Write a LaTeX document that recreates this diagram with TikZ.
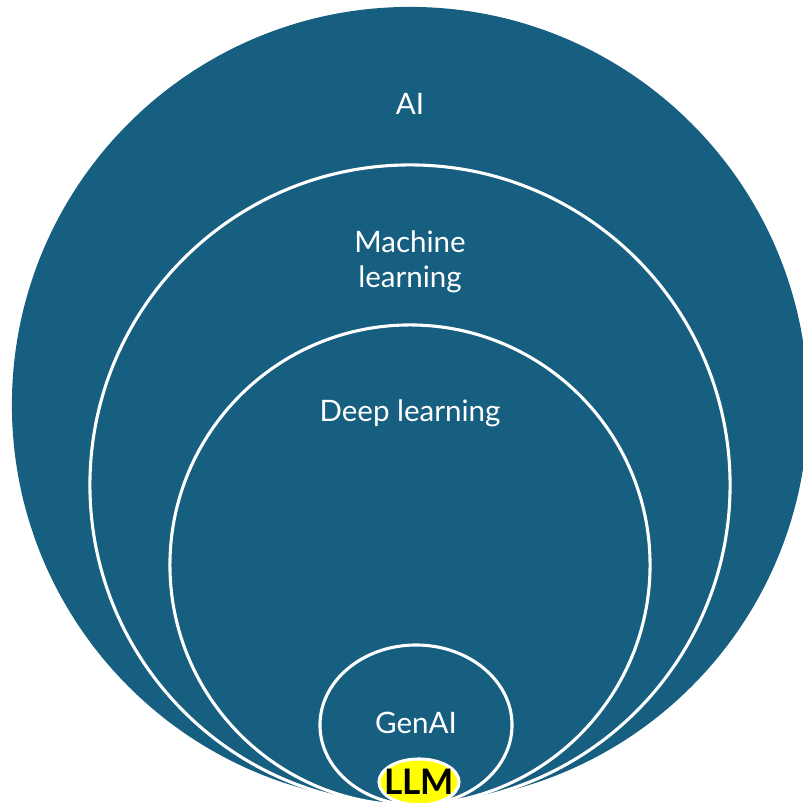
\documentclass[tikz,border=0pt]{standalone}
\usepackage{fontspec}
\setmainfont{Lato}
\definecolor{AIBlue}{RGB}{23, 95, 128}
\definecolor{LLMYellow}{RGB}{255, 255, 0}
\usetikzlibrary{shapes.geometric}

\begin{document}
\begin{tikzpicture}[
            x=0.025cm, y=-0.025cm,
            ring/.style={circle, draw=white, line width=2.2pt, fill=AIBlue, inner sep=0pt},
            label/.style={text=white, font=\fontsize{21}{25}\selectfont, align=center}
        ]
            \useasboundingbox (0,0) rectangle (803,803);
            \clip (0,0) rectangle (803,803);

            % nested sets
            \node[circle, fill=AIBlue, minimum size=19.9cm, inner sep=0pt] (ai) at (410,405) {};
            \node[ring, minimum size=16cm] (ml) at (410,485) {};
            \node[ring, minimum size=12cm] (dl) at (410,565) {};
            \node[ring, ellipse, minimum width=4.8cm, minimum height=4cm] (gen) at (416,725) {};
            \node[ellipse, draw=white, line width=2.2pt, fill=LLMYellow, inner sep=0pt,
                  minimum width=2cm, minimum height=1.15cm] (llm) at (419,782) {};

            % labels
            \node[label] (ailbl) at (410,104) {AI};
            \node[label] (mllbl) at (410,262) {Machine\\learning};
            \node[label] (dllbl) at (410,413) {Deep learning};
            \node[label] (genlbl) at (416,723) {GenAI};
            \node[font=\fontsize{25}{28}\selectfont\bfseries] (llmlbl) at (llm.center) {LLM};
        \end{tikzpicture}
\end{document}
